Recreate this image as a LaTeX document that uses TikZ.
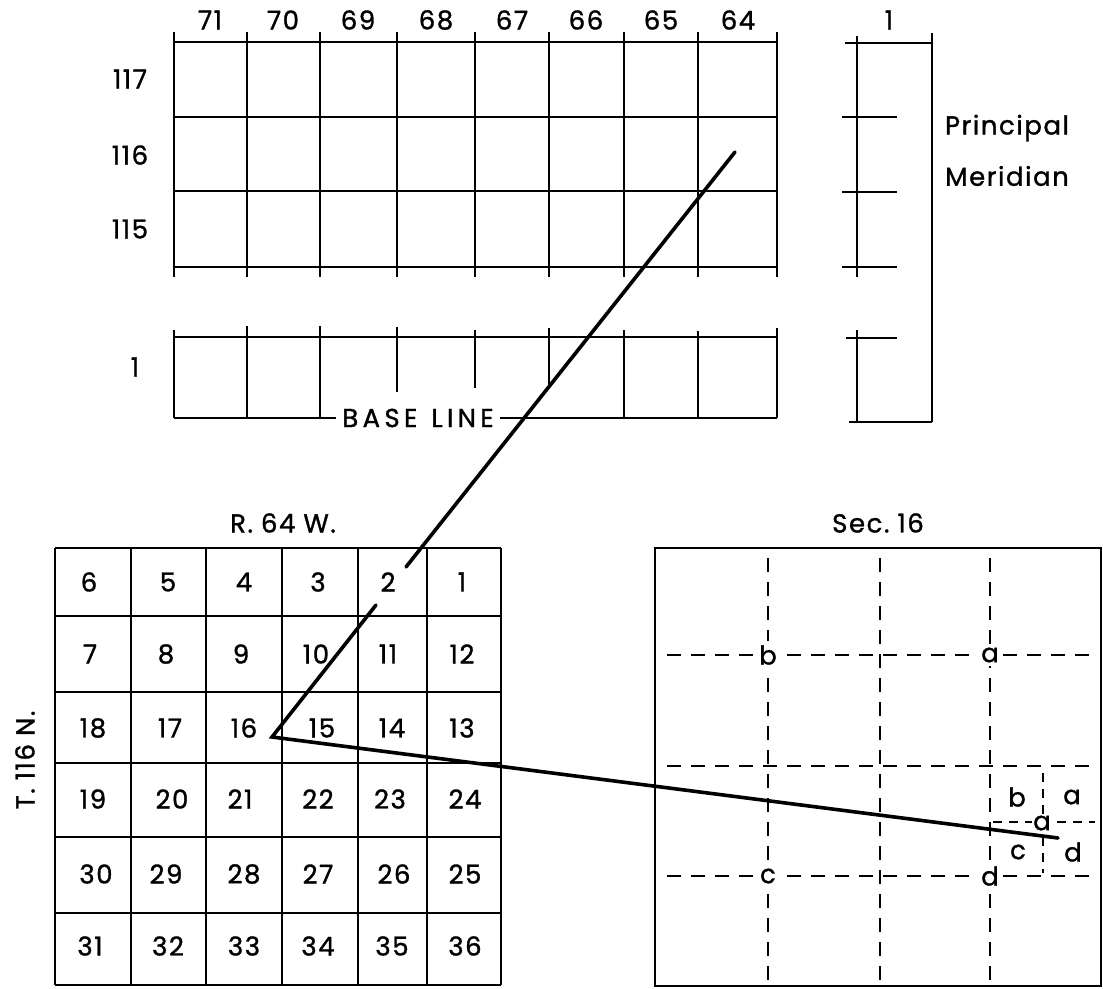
\documentclass[tikz,border=0pt]{standalone}
\usepackage{fontspec}
\setmainfont[LetterSpace=6,FakeBold=1.2]{Poppins}
\begin{document}
\begin{tikzpicture}[x=1pt,y=-1pt,
  gridln/.style={line width=2.3pt},
  pointer/.style={line width=3.6pt, line cap=round},
  secline/.style={line width=2.4pt, dash pattern=on 14pt off 10pt},
  lbl/.style={font=\fontsize{26}{28}\selectfont, inner sep=1pt},
  seclbl/.style={lbl, fill=white, inner sep=4pt}
]
\useasboundingbox (0,0) rectangle (1103,988);

% ---------- top grid of townships ----------
\foreach \y in {42,117,191,267} \draw[gridln] (174,\y) -- (777,\y);
\foreach \x in {174,247,320,397,475,549,624,698,777} \draw[gridln] (\x,32) -- (\x,277);
\foreach \t/\x in {71/210,70/283,69/358,68/436,67/512,66/586,65/661,64/738}
  \node[lbl] (col\t) at (\x,20) {\t};
\node[lbl] (row117) at (130,79) {117};
\node[lbl] (row116) at (130,155) {116};
\node[lbl] (row115) at (130,229) {115};
\node[lbl] (row1) at (135,367) {1};

% ---------- township 1 strip ----------
\draw[gridln] (174,337) -- (777,337);
\node[lbl, inner sep=6pt] (base) at (418,418) {B\,A\,S\,E\hspace{14pt}L\,I\,N\,E};
\draw[gridln] (174,418) -- (base.west);
\draw[gridln] (base.east) -- (777,418);
\foreach \x/\a/\b in {174/330/418,247/326/418,320/326/418,397/327/392,475/330/388,549/328/385,624/330/418,698/331/418,777/328/418}
  \draw[gridln] (\x,\a) -- (\x,\b);

% ---------- principal meridian column ----------
\draw[gridln] (857,36) -- (857,277);
\draw[gridln] (845,43) -- (932,43);
\foreach \y in {117,192,267} \draw[gridln] (842,\y) -- (897,\y);
\draw[gridln] (932,33) -- (932,422);
\draw[gridln] (857,330) -- (857,422);
\draw[gridln] (846,338) -- (897,338);
\draw[gridln] (849,422) -- (932,422);
\node[lbl] (mcol) at (889,20) {1};
\node[lbl] (princ) at (1007,128) {Principal};
\node[lbl] (merid) at (1007,176) {Meridian};

% ---------- township R.64W. T.116N. ----------
\node[lbl] (rlabel) at (283,523) {R.\hspace{8pt}64\hspace{8pt}W.};
\node[lbl, rotate=90] (tlabel) at (25,760) {T.\hspace{8pt}116\hspace{8pt}N.};
\foreach \x in {55,131,206,282,358,427,501} \draw[gridln] (\x,548) -- (\x,985);
\foreach \y in {548,616,692,763,837,913,985} \draw[gridln] (55,\y) -- (501,\y);
\foreach \n/\x/\y in {
  6/89/582,5/168/582,4/244/582,3/318/582,2/388/582,1/462/582,
  7/90/654,8/166/654,9/241/654,10/316/654,11/388/654,12/462/654,
  18/93/728,17/170/728,16/244/728,15/322/728,14/392/728,13/462/728,
  19/93/799,20/172/799,21/240/799,22/318/799,23/390/799,24/465/799,
  30/96/874,29/166/874,28/244/874,27/318/874,26/394/874,25/465/874,
  31/90/946,32/168/946,33/244/946,34/318/946,35/392/946,36/465/946}
  \node[lbl] (s\n) at (\x,\y) {\n};

% ---------- section 16 ----------
\node[lbl] (seclabel) at (878,523) {Sec.\hspace{8pt}16};
\draw[gridln] (655,548) rectangle (1101,986);
\foreach \x in {768,880,990} \draw[secline] (\x,558) -- (\x,982);
\foreach \y in {655,766,876} \draw[secline] (667,\y) -- (1092,\y);
\node[seclbl] (qb) at (768,655) {b};
\node[seclbl] (qa) at (990,655) {a};
\node[seclbl] (qc) at (768,876) {c};
\node[seclbl] (qd) at (990,876) {d};
\draw[secline, dash pattern=on 9pt off 7pt] (1043,773) -- (1043,873);
\draw[secline, dash pattern=on 9pt off 7pt] (993,822) -- (1095,822);
\node[lbl] (ssb) at (1017,797) {b};
\node[lbl] (ssa) at (1072,797) {a};
\node[seclbl, inner sep=1pt] (ssc0) at (1042,823) {a};
\node[lbl] (ssc) at (1018,852) {c};
\node[lbl] (ssd) at (1073,852) {d};

% ---------- pointer lines ----------
\coordinate (ptop) at (735,152);
\coordinate (gapA) at (406,567);
\coordinate (gapB) at (376,605);
\coordinate (apex) at (272,737);
\coordinate (secend) at (1058,838);
\draw[pointer] (ptop) -- (gapA);
\draw[pointer, line join=miter] (gapB) -- (apex) -- (secend);
\end{tikzpicture}
\end{document}
